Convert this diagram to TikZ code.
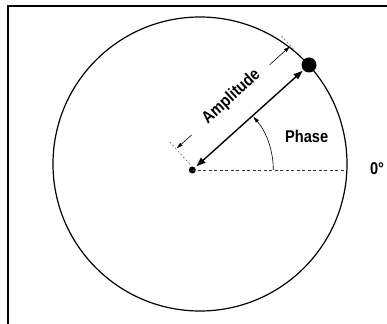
\documentclass[tikz,border=0pt]{standalone}
\usepackage{fontspec}
\setmainfont{Liberation Sans}
\newfontfamily\condfont{Liberation Sans}[FakeStretch=0.86]
\usetikzlibrary{arrows.meta}

\begin{document}
\begin{tikzpicture}[x=1pt, y=1pt,
	ring/.style={line width=1.2pt},
	dot/.style={circle, fill=black, inner sep=0pt},
	guide/.style={dash pattern=on 3pt off 2.5pt, line width=0.7pt, draw=black!80},
	extline/.style={dash pattern=on 2pt off 2pt, line width=0.5pt, draw=black!70},
	amparrow/.style={{Triangle[length=9pt,width=6.5pt]}-{Triangle[length=9pt,width=6.5pt]}, line width=1.4pt},
	dimarrow/.style={-{Triangle[length=6pt,width=3.5pt]}, line width=0.6pt},
	lbl/.style={font=\condfont\bfseries\fontsize{17}{17}\selectfont, inner sep=0pt}
	]
	\useasboundingbox (0,0) rectangle (387,323);
	
	% frame
	\draw[line width=2pt] (8,-2) -- (8,317) -- (390,317);
	
	% circle and points
	\node[circle, draw, ring, minimum size=294pt, inner sep=0pt] (ring) at (200,159) {};
	\node[dot, minimum size=7pt]  (O) at (192.3,153) {};
	\node[dot, minimum size=15pt] (P) at (309,258) {};
	\coordinate (zero) at (346.9,153);
	\coordinate (phase0) at (273.3,153);
	
	% 0 degree reference
	\draw[guide] (O.center) -- (zero);
	\node[lbl] (deg) at (377,154) {0°};
	
	% amplitude
	\draw[amparrow, shorten <=2pt, shorten >=1pt] (O) -- (P);
	
	% phase angle
	\draw[dimarrow] (phase0) arc[start angle=0, end angle=41, radius=81];
	\node[lbl] (phase) at (306.7,187) {Phase};
	
	% dimension lines along the amplitude
	\begin{scope}[shift={(192.3,153)}, rotate=42]
		\coordinate (ext1a) at (2,6);
		\coordinate (ext1b) at (2,37);
		\coordinate (ext2a) at (156,18);
		\coordinate (ext2b) at (156,40);
		\coordinate (dim1) at (23,26.5);
		\coordinate (dim1tip) at (3,26.5);
		\coordinate (dim2) at (128,26.5);
		\coordinate (dim2tip) at (155,26.5);
		\draw[extline] (ext1a) -- (ext1b);
		\draw[extline] (ext2a) -- (ext2b);
		\draw[dimarrow] (dim1) -- (dim1tip);
		\draw[dimarrow] (dim2) -- (dim2tip);
		\node[lbl, rotate=42] (amp) at (78,28) {Amplitude};
	\end{scope}
	
\end{tikzpicture}
\end{document}
